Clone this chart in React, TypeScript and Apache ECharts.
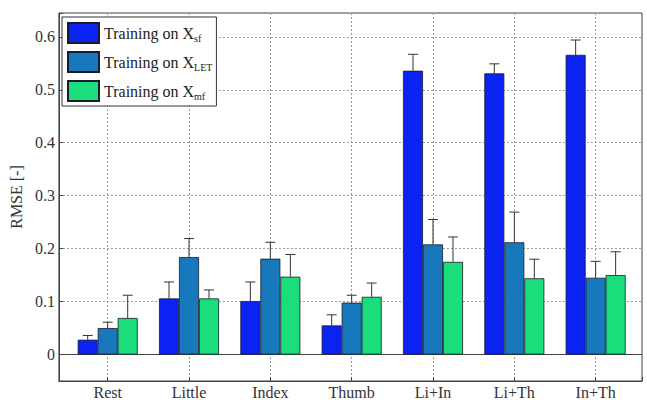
import React, { useEffect, useRef } from "react";
import * as echarts from "echarts";

const categories = ["Rest", "Little", "Index", "Thumb", "Li+In", "Li+Th", "In+Th"];
const seriesNames = ["Training on Xsf", "Training on XLET", "Training on Xmf"];
const legendSubs = ["sf", "LET", "mf"];
const sfValues = [0.028, 0.106, 0.101, 0.055, 0.536, 0.531, 0.566];
const sfErrors = [0.008, 0.031, 0.036, 0.02, 0.031, 0.018, 0.028];
const letValues = [0.05, 0.184, 0.181, 0.098, 0.208, 0.212, 0.145];
const letErrors = [0.011, 0.035, 0.031, 0.014, 0.047, 0.057, 0.031];
const mfValues = [0.069, 0.106, 0.147, 0.109, 0.175, 0.144, 0.15];
const mfErrors = [0.043, 0.016, 0.042, 0.026, 0.047, 0.036, 0.044];
const yTickMax = 0.6;

const colors = ["#0a22f2", "#1878bc", "#1ade7c"];
const BAR_W = 20;
const FONT = "Liberation Serif";

export default function App() {
  const ref = useRef<HTMLDivElement>(null);
  useEffect(() => {
    if (!ref.current) return;
    const chart = echarts.init(ref.current, undefined, { renderer: "svg" });
    const values = [sfValues, letValues, mfValues];
    const errors = [sfErrors, letErrors, mfErrors];

    const barSeries = values.map((vals, si) => ({
      type: "bar",
      name: seriesNames[si],
      barWidth: BAR_W,
      barGap: "0%",
      data: vals.map((v, i) => [i + 1, v]),
      itemStyle: { color: colors[si], borderColor: "#1a1a2a", borderWidth: 0.8 },
      z: 3,
      ...(si === 0
        ? {
            markLine: {
              silent: true,
              symbol: "none",
              label: { show: false },
              lineStyle: { color: "#444", width: 1, type: "solid" },
              data: [{ yAxis: 0 }],
              z: 2,
            },
          }
        : {}),
    }));

    const errSeries = values.map((vals, si) => ({
      type: "custom",
      name: seriesNames[si] + " err",
      z: 5,
      silent: true,
      data: vals.map((v, i) => [i + 1, v, errors[si][i]]),
      renderItem: (params: any, api: any) => {
        const x = api.value(0);
        const v = api.value(1);
        const e = api.value(2);
        const p0 = api.coord([x, v]);
        const p1 = api.coord([x, v + e]);
        const px = p0[0] + (si - 1) * BAR_W;
        const style = { stroke: "#333", lineWidth: 1 };
        return {
          type: "group",
          children: [
            { type: "line", shape: { x1: px, y1: p0[1], x2: px, y2: p1[1] }, style },
            { type: "line", shape: { x1: px - 5, y1: p1[1], x2: px + 5, y2: p1[1] }, style },
          ],
        };
      },
    }));

    chart.setOption({
      animation: false,
      grid: {
        left: 57,
        right: 5,
        top: 13,
        bottom: 17,
        show: true,
        borderColor: "#444",
        borderWidth: 1,
        backgroundColor: "#fff",
      },
      legend: {
        orient: "vertical",
        left: 62,
        top: 17,
        data: seriesNames,
        icon: "rect",
        itemWidth: 31,
        itemHeight: 20,
        itemGap: 7,
        padding: [5, 4, 4, 5],
        backgroundColor: "#fff",
        borderColor: "#333",
        borderWidth: 1,
        borderRadius: 0,
        formatter: (name: string) => {
          const i = seriesNames.indexOf(name);
          return "Training on X{sub|" + legendSubs[i] + "}";
        },
        textStyle: {
          fontFamily: FONT,
          fontSize: 16,
          color: "#222",
          rich: {
            sub: { fontFamily: FONT, fontSize: 10, color: "#222", padding: [10, 0, 0, 0] },
          },
        },
      },
      xAxis: {
        type: "value",
        min: 0.4,
        max: 7.57,
        splitNumber: 7,
        axisLine: { show: true, onZero: false, lineStyle: { color: "#444" } },
        axisTick: { show: true, inside: true, length: 4, lineStyle: { color: "#444" } },
        axisLabel: {
          fontFamily: FONT,
          fontSize: 16,
          color: "#333",
          margin: 3,
          formatter: (v: number) => {
            const r = Math.round(v);
            return Math.abs(v - r) < 1e-6 && r >= 1 && r <= categories.length ? categories[r - 1] : "";
          },
        },
        splitLine: { show: true, lineStyle: { color: "#999", type: [2, 2], width: 1 } },
      },
      yAxis: {
        type: "value",
        min: -0.05,
        max: 0.645,
        splitNumber: 7,
        name: "RMSE [-]",
        nameLocation: "middle",
        nameGap: 27,
        nameTextStyle: { fontFamily: FONT, fontSize: 16, color: "#333" },
        axisLine: { show: true, lineStyle: { color: "#444" } },
        axisTick: { show: true, inside: true, length: 4, lineStyle: { color: "#444" } },
        axisLabel: {
          fontFamily: FONT,
          fontSize: 16,
          color: "#333",
          margin: 4,
          formatter: (v: number) => (v < -1e-6 || v > yTickMax + 1e-6 ? "" : String(Number(v.toFixed(1)))),
        },
        splitLine: { show: true, lineStyle: { color: "#999", type: [2, 2], width: 1 } },
      },
      series: [...barSeries, ...errSeries],
    });
    return () => chart.dispose();
  }, []);
  return (
    <div
      ref={ref}
      style={{ position: "fixed", left: 0, top: 0, width: 647, height: 400, background: "#fff" }}
    />
  );
}
